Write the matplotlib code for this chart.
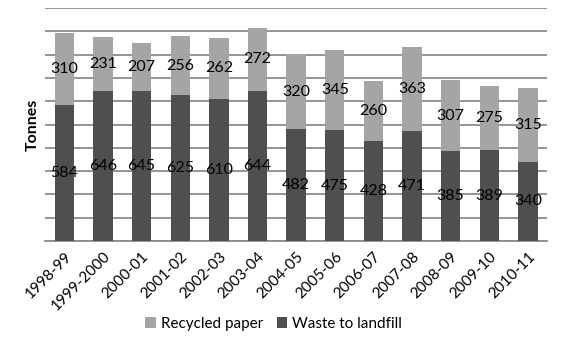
import numpy as np
import matplotlib.pyplot as plt

plt.rcParams['font.family'] = ['Lato', 'DejaVu Sans']

years = ['1998-99', '1999-2000', '2000-01', '2001-02', '2002-03', '2003-04',
         '2004-05', '2005-06', '2006-07', '2007-08', '2008-09', '2009-10', '2010-11']
landfill = [584, 646, 645, 625, 610, 644, 482, 475, 428, 471, 385, 389, 340]
recycled = [310, 231, 207, 256, 262, 272, 320, 345, 260, 363, 307, 275, 315]

dark = '#4f4f4f'
light = '#a5a5a5'

fig = plt.figure(figsize=(5.7, 3.39), dpi=100)
ax = fig.add_axes([0.079, 0.289, 0.881, 0.687])

x = np.arange(len(years))
b1 = ax.bar(x, landfill, width=0.5, color=dark, label='Waste to landfill', zorder=3)
b2 = ax.bar(x, recycled, width=0.5, bottom=landfill, color=light,
            label='Recycled paper', zorder=3)

for i in range(len(years)):
    ax.text(x[i], landfill[i] / 2, str(landfill[i]), ha='center', va='center',
            fontsize=11.5, color='black', zorder=4)
    ax.text(x[i], landfill[i] + recycled[i] / 2, str(recycled[i]), ha='center',
            va='center', fontsize=11.5, color='black', zorder=4)

ax.set_xlim(-0.5, len(years) - 0.5)
ax.set_ylim(0, 1000)
ax.set_yticks(np.arange(0, 1001, 100))
ax.set_yticklabels([])
ax.tick_params(axis='y', length=0)
ax.tick_params(axis='x', length=0, pad=6)
ax.yaxis.grid(True, color='#8c8c8c', linewidth=1.3, zorder=0)
for s in ['top', 'right', 'left']:
    ax.spines[s].set_visible(False)
ax.spines['bottom'].set_color('#8c8c8c')
ax.spines['bottom'].set_linewidth(1.3)

ax.set_xticks(x)
ax.set_xticklabels(years, rotation=45, ha='right', rotation_mode='anchor', fontsize=11)
ax.set_ylabel('Tonnes', fontsize=11.5, fontweight='bold', labelpad=0)

ax.legend([b2, b1], ['Recycled paper', 'Waste to landfill'], loc='center',
          bbox_to_anchor=(0.455, -0.355), ncol=2, frameon=False, fontsize=11,
          handlelength=0.7, handleheight=0.7, handletextpad=0.3, columnspacing=0.9)

fig.savefig('out.png', dpi=100)
